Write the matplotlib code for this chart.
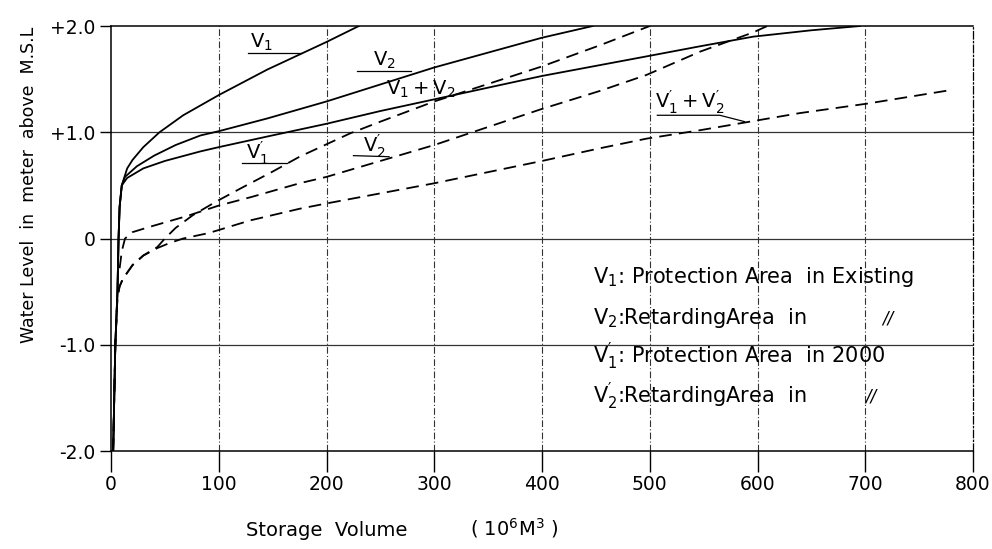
import matplotlib
matplotlib.use("Agg")
import matplotlib.pyplot as plt

plt.rcParams['font.family'] = ['DejaVu Sans']
plt.rcParams['mathtext.default'] = 'regular'

# Storage volume (10^6 m3) vs water level (m above M.S.L)
v1_x = [2, 4, 6, 7, 8, 10, 15, 20, 30, 45, 67, 100, 145, 200, 230]
v1_y = [-2.0, -1.0, -0.5, 0.0, 0.3, 0.5, 0.66, 0.74, 0.86, 1.0, 1.16, 1.35, 1.59, 1.85, 2.0]

v2_x = [2, 4, 6, 7, 8, 10, 13, 24, 40, 60, 83, 100, 145, 200, 250, 300, 400, 447]
v2_y = [-2.0, -1.0, -0.5, 0.0, 0.3, 0.5, 0.58, 0.68, 0.78, 0.88, 0.97, 1.01, 1.13, 1.29, 1.45, 1.61, 1.89, 2.0]

v12_x = [2, 4, 6, 7, 8, 10, 15, 30, 50, 83, 100, 145, 200, 250, 300, 400, 500, 547, 596, 650, 695]
v12_y = [-2.0, -1.0, -0.5, 0.0, 0.3, 0.5, 0.57, 0.66, 0.73, 0.82, 0.86, 0.96, 1.08, 1.20, 1.31, 1.53, 1.72, 1.81, 1.90, 1.96, 2.0]

v1p_x = [2, 4, 6, 8, 11, 20, 30, 43, 50, 60, 76, 98, 120, 150, 175, 222, 250, 300, 400, 454, 500]
v1p_y = [-2.0, -1.0, -0.55, -0.45, -0.38, -0.25, -0.16, -0.08, 0.0, 0.1, 0.22, 0.35, 0.47, 0.63, 0.77, 0.99, 1.1, 1.29, 1.62, 1.82, 2.0]

v2p_x = [8, 10, 13, 20, 36, 70, 100, 130, 175, 200, 250, 300, 350, 400, 454, 497, 547, 596, 609]
v2p_y = [-0.28, -0.12, 0.0, 0.06, 0.11, 0.21, 0.31, 0.39, 0.52, 0.58, 0.73, 0.88, 1.05, 1.22, 1.39, 1.54, 1.76, 1.94, 2.0]

v12p_x = [2, 4, 6, 8, 11, 20, 30, 43, 55, 67, 90, 100, 129, 175, 200, 300, 400, 454, 497, 547, 593, 639, 702, 781]
v12p_y = [-2.0, -1.0, -0.55, -0.45, -0.38, -0.25, -0.16, -0.09, -0.04, 0.0, 0.05, 0.08, 0.17, 0.28, 0.33, 0.52, 0.73, 0.85, 0.94, 1.02, 1.10, 1.18, 1.27, 1.40]

x_ticks = [0, 100, 200, 300, 400, 500, 600, 700, 800]
y_ticks = [-2.0, -1.0, 0.0, 1.0, 2.0]
y_tick_labels = ["-2.0", "-1.0", "0", "+1.0", "+2.0"]

legend_lines = [
    r"$V_1$: Protection Area  in Existing",
    r"$V_2$:RetardingArea  in",
    r"$V^{\prime}_1$: Protection Area  in 2000",
    r"$V^{\prime}_2$:RetardingArea  in",
]

fig = plt.figure(figsize=(9.92, 5.49), dpi=100)
ax = fig.add_axes([0.1119, 0.1785, 0.8690, 0.7741])

dash = (0, (7, 4))
ax.plot(v1_x, v1_y, color="black", lw=1.3)
ax.plot(v2_x, v2_y, color="black", lw=1.3)
ax.plot(v12_x, v12_y, color="black", lw=1.3)
ax.plot(v1p_x, v1p_y, color="black", lw=1.3, linestyle=dash)
ax.plot(v2p_x, v2p_y, color="black", lw=1.3, linestyle=dash)
ax.plot(v12p_x, v12p_y, color="black", lw=1.3, linestyle=dash)

ax.set_xlim(0, 800)
ax.set_ylim(-2.0, 2.0)

# grid: solid horizontals, dash-dot verticals
for yv in [-1.0, 0.0, 1.0]:
    ax.axhline(yv, color="#333333", lw=0.9, zorder=0)
for xv in x_ticks[1:-1]:
    ax.axvline(xv, color="#333333", lw=0.8, linestyle=(0, (6, 2, 1, 2)), zorder=0)

ax.set_xticks(x_ticks)
ax.set_xticklabels([str(v) for v in x_ticks])
ax.set_yticks(y_ticks)
ax.set_yticklabels(y_tick_labels)
ax.tick_params(axis="x", direction="out", length=15, width=1.0, pad=2, labelsize=13.5)
ax.tick_params(axis="y", direction="out", length=8, width=1.0, pad=3, labelsize=13.5)
for s in ax.spines.values():
    s.set_linewidth(1.1)
ax.spines["right"].set_linestyle((0, (6, 2, 1, 2)))
ax.spines["right"].set_linewidth(0.9)

ax.set_ylabel("Water Level  in  meter  above  M.S.L", fontsize=12.5)
ax.yaxis.set_label_coords(-0.085, 0.626)
fig.text(327 / 992, 1 - 530 / 549, "Storage  Volume",
         ha="center", va="center", fontsize=14)
fig.text(514 / 992, 1 - 528 / 549, r"( $10^6 M^3$ )",
         ha="center", va="center", fontsize=14)

# curve labels with underline leaders
lab_fs = 14
def underline_label(text, tx, ty, pts):
    ax.text(tx, ty, text, ha="center", va="center", fontsize=lab_fs)
    xs = [p[0] for p in pts]
    ys = [p[1] for p in pts]
    ax.plot(xs, ys, color="black", lw=0.9)

underline_label(r"$V_1$", 140, 1.85, [(127, 1.75), (176, 1.75)])
underline_label(r"$V_2$", 254, 1.68, [(228, 1.58), (278, 1.58)])
ax.text(287, 1.40, r"$V_1 + V_2$", ha="center", va="center", fontsize=lab_fs)
underline_label(r"$V^{\prime}_1$", 136, 0.80, [(122, 0.71), (163, 0.71)])
underline_label(r"$V^{\prime}_2$", 244, 0.87, [(225, 0.78), (258, 0.77)])
underline_label(r"$V^{\prime}_1 + V^{\prime}_2$", 537, 1.28, [(507, 1.16), (565, 1.16), (588, 1.10)])

leg_fs = 15
leg_y = [-0.36, -0.75, -1.11, -1.49]
for txt, yy in zip(legend_lines, leg_y):
    ax.text(447, yy, txt, ha="left", va="center", fontsize=leg_fs)
ax.text(716, leg_y[1], "//", ha="left", va="center", fontsize=12, style="italic")
ax.text(700, leg_y[3], "//", ha="left", va="center", fontsize=12, style="italic")

fig.savefig("out.png", dpi=100)
